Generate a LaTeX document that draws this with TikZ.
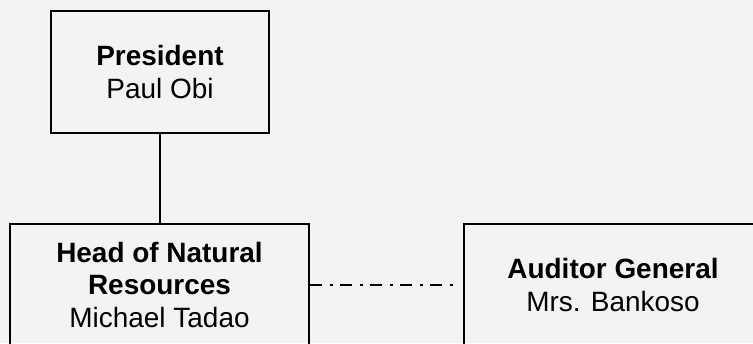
\documentclass[tikz,border=0pt]{standalone}
\usepackage{fontspec}
\setmainfont{Liberation Sans}
\usetikzlibrary{positioning}

\definecolor{pagegray}{HTML}{F2F3F3}

\tikzset{
  post/.style={draw,line width=1.3pt,minimum width=#1,minimum height=2.44cm,inner sep=0pt,align=center,font=\fontsize{15.9}{18.6}\selectfont},
  dashdot/.style={line width=1.1pt,dash pattern=on 0.24cm off 0.15cm on 0.06cm off 0.15cm}
}

\begin{document}
\begin{tikzpicture}
\fill[pagegray] (0,0) rectangle (15.06,6.86);
\clip (0,0) rectangle (15.06,6.86);

\node[post=4.36cm] at (3.20, 5.42) (president){\textbf{President}\\Paul Obi};
\node[post=5.98cm] at (3.19, 1.16) (head){\textbf{Head of Natural}\\\textbf{Resources}\\Michael Tadao};
\node[post=5.96cm] at (12.26, 1.16) (auditor){\textbf{Auditor General}\\Mrs. Bankoso};

\path[draw,line width=1.1pt]
  (president.south) -- (president.south |- head.north);

\path[draw,dashdot,shorten >=0.18cm]
  (head.east) -- (auditor.west);

\end{tikzpicture}
\end{document}
